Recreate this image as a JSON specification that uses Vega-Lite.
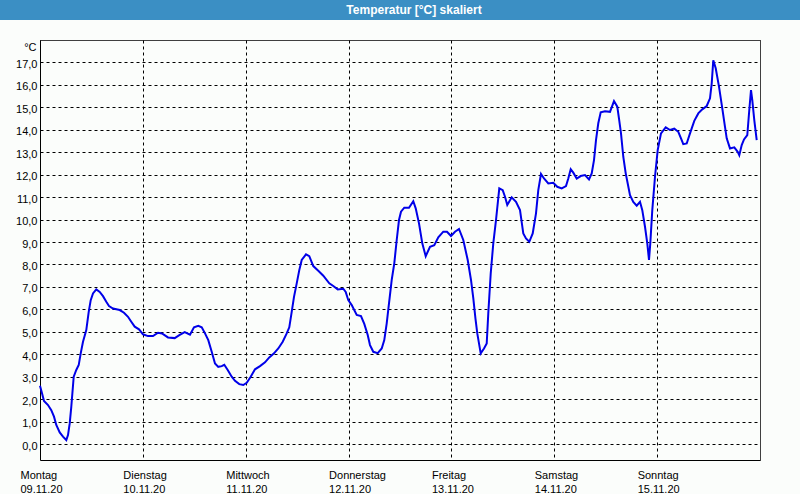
{
  "$schema": "https://vega.github.io/schema/vega-lite/v6.json",
  "background": "#fbfdfb",
  "padding": 0,
  "spacing": 20,
  "config": {
    "font": "Liberation Sans",
    "view": {"stroke": null, "fill": "#fbfdfb"}
  },
  "vconcat": [
    {
      "width": 800,
      "height": 20,
      "view": {"fill": "#3b8fc4", "stroke": null},
      "data": {"values": [{"title": "Temperatur [°C] skaliert"}]},
      "mark": {"type": "text", "color": "white", "fontWeight": "bold", "fontSize": 12, "font": "Liberation Sans", "baseline": "middle", "dx": 14},
      "encoding": {"text": {"field": "title"}}
    },
    {
      "width": 760,
      "height": 420,
      "data": {"values": [
        {"t": "2020-11-09T00:00", "v": 2.6},
        {"t": "2020-11-09T00:28", "v": 2.26},
        {"t": "2020-11-09T00:56", "v": 1.92},
        {"t": "2020-11-09T01:52", "v": 1.74},
        {"t": "2020-11-09T02:38", "v": 1.51},
        {"t": "2020-11-09T03:16", "v": 1.22},
        {"t": "2020-11-09T03:48", "v": 0.85},
        {"t": "2020-11-09T04:36", "v": 0.52},
        {"t": "2020-11-09T05:22", "v": 0.33},
        {"t": "2020-11-09T06:08", "v": 0.18},
        {"t": "2020-11-09T06:32", "v": 0.4},
        {"t": "2020-11-09T06:56", "v": 0.92},
        {"t": "2020-11-09T07:18", "v": 1.66},
        {"t": "2020-11-09T07:52", "v": 3.0},
        {"t": "2020-11-09T08:28", "v": 3.3},
        {"t": "2020-11-09T09:02", "v": 3.52},
        {"t": "2020-11-09T09:30", "v": 4.04},
        {"t": "2020-11-09T10:02", "v": 4.56},
        {"t": "2020-11-09T10:48", "v": 5.08},
        {"t": "2020-11-09T11:22", "v": 5.89},
        {"t": "2020-11-09T11:50", "v": 6.41},
        {"t": "2020-11-09T12:22", "v": 6.71},
        {"t": "2020-11-09T13:08", "v": 6.89},
        {"t": "2020-11-09T13:56", "v": 6.78},
        {"t": "2020-11-09T14:42", "v": 6.59},
        {"t": "2020-11-09T15:28", "v": 6.34},
        {"t": "2020-11-09T16:06", "v": 6.15},
        {"t": "2020-11-09T17:02", "v": 6.04},
        {"t": "2020-11-09T18:36", "v": 5.97},
        {"t": "2020-11-09T19:36", "v": 5.85},
        {"t": "2020-11-09T20:32", "v": 5.67},
        {"t": "2020-11-09T21:18", "v": 5.45},
        {"t": "2020-11-09T22:06", "v": 5.23},
        {"t": "2020-11-09T23:06", "v": 5.11},
        {"t": "2020-11-10T00:02", "v": 4.89},
        {"t": "2020-11-10T01:12", "v": 4.81},
        {"t": "2020-11-10T02:22", "v": 4.81},
        {"t": "2020-11-10T03:32", "v": 4.96},
        {"t": "2020-11-10T04:28", "v": 4.93},
        {"t": "2020-11-10T05:52", "v": 4.75},
        {"t": "2020-11-10T07:26", "v": 4.72},
        {"t": "2020-11-10T08:36", "v": 4.86},
        {"t": "2020-11-10T09:46", "v": 4.99},
        {"t": "2020-11-10T11:00", "v": 4.87},
        {"t": "2020-11-10T11:56", "v": 5.2},
        {"t": "2020-11-10T12:56", "v": 5.27},
        {"t": "2020-11-10T13:44", "v": 5.2},
        {"t": "2020-11-10T14:30", "v": 4.93},
        {"t": "2020-11-10T15:16", "v": 4.63},
        {"t": "2020-11-10T16:04", "v": 4.11},
        {"t": "2020-11-10T16:50", "v": 3.59},
        {"t": "2020-11-10T17:36", "v": 3.44},
        {"t": "2020-11-10T18:24", "v": 3.47},
        {"t": "2020-11-10T19:00", "v": 3.53},
        {"t": "2020-11-10T19:48", "v": 3.3},
        {"t": "2020-11-10T20:44", "v": 3.0},
        {"t": "2020-11-10T21:30", "v": 2.82},
        {"t": "2020-11-10T22:30", "v": 2.67},
        {"t": "2020-11-10T23:26", "v": 2.63},
        {"t": "2020-11-11T00:14", "v": 2.73},
        {"t": "2020-11-11T01:10", "v": 3.0},
        {"t": "2020-11-11T02:10", "v": 3.33},
        {"t": "2020-11-11T03:20", "v": 3.47},
        {"t": "2020-11-11T04:30", "v": 3.64},
        {"t": "2020-11-11T05:30", "v": 3.86},
        {"t": "2020-11-11T06:36", "v": 4.04},
        {"t": "2020-11-11T07:36", "v": 4.26},
        {"t": "2020-11-11T08:38", "v": 4.56},
        {"t": "2020-11-11T09:34", "v": 4.93},
        {"t": "2020-11-11T10:10", "v": 5.2},
        {"t": "2020-11-11T10:44", "v": 5.89},
        {"t": "2020-11-11T11:16", "v": 6.56},
        {"t": "2020-11-11T11:54", "v": 7.16},
        {"t": "2020-11-11T12:30", "v": 7.75},
        {"t": "2020-11-11T13:04", "v": 8.2},
        {"t": "2020-11-11T14:04", "v": 8.45},
        {"t": "2020-11-11T14:50", "v": 8.37},
        {"t": "2020-11-11T15:46", "v": 7.93},
        {"t": "2020-11-11T16:56", "v": 7.72},
        {"t": "2020-11-11T18:06", "v": 7.5},
        {"t": "2020-11-11T19:30", "v": 7.16},
        {"t": "2020-11-11T20:26", "v": 7.04},
        {"t": "2020-11-11T21:28", "v": 6.89},
        {"t": "2020-11-11T22:46", "v": 6.92},
        {"t": "2020-11-11T23:20", "v": 6.78},
        {"t": "2020-11-11T23:56", "v": 6.41},
        {"t": "2020-11-12T00:44", "v": 6.19},
        {"t": "2020-11-12T01:54", "v": 5.75},
        {"t": "2020-11-12T02:54", "v": 5.7},
        {"t": "2020-11-12T03:40", "v": 5.35},
        {"t": "2020-11-12T04:28", "v": 4.86},
        {"t": "2020-11-12T05:00", "v": 4.41},
        {"t": "2020-11-12T05:46", "v": 4.11},
        {"t": "2020-11-12T06:48", "v": 4.05},
        {"t": "2020-11-12T07:44", "v": 4.26},
        {"t": "2020-11-12T08:20", "v": 4.63},
        {"t": "2020-11-12T08:54", "v": 5.38},
        {"t": "2020-11-12T09:26", "v": 6.27},
        {"t": "2020-11-12T10:04", "v": 7.31},
        {"t": "2020-11-12T10:40", "v": 8.05},
        {"t": "2020-11-12T11:14", "v": 9.09},
        {"t": "2020-11-12T11:46", "v": 9.98},
        {"t": "2020-11-12T12:14", "v": 10.35},
        {"t": "2020-11-12T13:00", "v": 10.53},
        {"t": "2020-11-12T14:06", "v": 10.53},
        {"t": "2020-11-12T15:06", "v": 10.82},
        {"t": "2020-11-12T15:40", "v": 10.5},
        {"t": "2020-11-12T16:26", "v": 9.83},
        {"t": "2020-11-12T17:12", "v": 8.94},
        {"t": "2020-11-12T18:00", "v": 8.37},
        {"t": "2020-11-12T19:00", "v": 8.79},
        {"t": "2020-11-12T20:00", "v": 8.86},
        {"t": "2020-11-12T20:56", "v": 9.21},
        {"t": "2020-11-12T22:06", "v": 9.46},
        {"t": "2020-11-12T22:58", "v": 9.46},
        {"t": "2020-11-12T23:54", "v": 9.27},
        {"t": "2020-11-13T00:50", "v": 9.46},
        {"t": "2020-11-13T01:46", "v": 9.58},
        {"t": "2020-11-13T02:46", "v": 9.09},
        {"t": "2020-11-13T03:48", "v": 8.2},
        {"t": "2020-11-13T04:34", "v": 7.31},
        {"t": "2020-11-13T05:06", "v": 6.5},
        {"t": "2020-11-13T05:36", "v": 5.6},
        {"t": "2020-11-13T06:02", "v": 4.93},
        {"t": "2020-11-13T06:50", "v": 4.04},
        {"t": "2020-11-13T07:36", "v": 4.26},
        {"t": "2020-11-13T08:14", "v": 4.48},
        {"t": "2020-11-13T08:36", "v": 5.82},
        {"t": "2020-11-13T09:10", "v": 7.6},
        {"t": "2020-11-13T09:46", "v": 8.94},
        {"t": "2020-11-13T10:24", "v": 9.98},
        {"t": "2020-11-13T11:10", "v": 11.39},
        {"t": "2020-11-13T11:58", "v": 11.31},
        {"t": "2020-11-13T12:30", "v": 11.02},
        {"t": "2020-11-13T13:02", "v": 10.65},
        {"t": "2020-11-13T14:04", "v": 10.99},
        {"t": "2020-11-13T15:04", "v": 10.79},
        {"t": "2020-11-13T16:00", "v": 10.42},
        {"t": "2020-11-13T16:46", "v": 9.38},
        {"t": "2020-11-13T17:24", "v": 9.16},
        {"t": "2020-11-13T18:10", "v": 9.01},
        {"t": "2020-11-13T18:58", "v": 9.38},
        {"t": "2020-11-13T19:44", "v": 10.28},
        {"t": "2020-11-13T20:16", "v": 11.31},
        {"t": "2020-11-13T20:54", "v": 12.03},
        {"t": "2020-11-13T21:36", "v": 11.83},
        {"t": "2020-11-13T22:36", "v": 11.61},
        {"t": "2020-11-13T23:46", "v": 11.64},
        {"t": "2020-11-14T00:42", "v": 11.46},
        {"t": "2020-11-14T01:44", "v": 11.39},
        {"t": "2020-11-14T02:44", "v": 11.49},
        {"t": "2020-11-14T03:16", "v": 11.83},
        {"t": "2020-11-14T03:50", "v": 12.24},
        {"t": "2020-11-14T04:26", "v": 12.09},
        {"t": "2020-11-14T05:14", "v": 11.83},
        {"t": "2020-11-14T06:10", "v": 11.94},
        {"t": "2020-11-14T07:10", "v": 11.98},
        {"t": "2020-11-14T08:06", "v": 11.79},
        {"t": "2020-11-14T08:44", "v": 12.06},
        {"t": "2020-11-14T09:16", "v": 12.65},
        {"t": "2020-11-14T09:44", "v": 13.54},
        {"t": "2020-11-14T10:16", "v": 14.29},
        {"t": "2020-11-14T10:50", "v": 14.78},
        {"t": "2020-11-14T11:50", "v": 14.83},
        {"t": "2020-11-14T13:00", "v": 14.8},
        {"t": "2020-11-14T13:56", "v": 15.28},
        {"t": "2020-11-14T14:42", "v": 15.03},
        {"t": "2020-11-14T15:06", "v": 14.5},
        {"t": "2020-11-14T15:34", "v": 13.84},
        {"t": "2020-11-14T16:06", "v": 12.8},
        {"t": "2020-11-14T16:40", "v": 12.06},
        {"t": "2020-11-14T17:08", "v": 11.61},
        {"t": "2020-11-14T17:40", "v": 11.09},
        {"t": "2020-11-14T18:26", "v": 10.79},
        {"t": "2020-11-14T19:14", "v": 10.62},
        {"t": "2020-11-14T20:00", "v": 10.79},
        {"t": "2020-11-14T20:32", "v": 10.42},
        {"t": "2020-11-14T21:10", "v": 9.68},
        {"t": "2020-11-14T21:42", "v": 8.94},
        {"t": "2020-11-14T22:06", "v": 8.2},
        {"t": "2020-11-14T22:24", "v": 8.94},
        {"t": "2020-11-14T22:52", "v": 10.42},
        {"t": "2020-11-14T23:30", "v": 11.91},
        {"t": "2020-11-15T00:08", "v": 13.1},
        {"t": "2020-11-15T00:54", "v": 13.84},
        {"t": "2020-11-15T02:00", "v": 14.11},
        {"t": "2020-11-15T03:00", "v": 13.99},
        {"t": "2020-11-15T04:00", "v": 14.05},
        {"t": "2020-11-15T04:56", "v": 13.91},
        {"t": "2020-11-15T05:34", "v": 13.62},
        {"t": "2020-11-15T06:06", "v": 13.36},
        {"t": "2020-11-15T06:54", "v": 13.39},
        {"t": "2020-11-15T07:40", "v": 13.84},
        {"t": "2020-11-15T08:40", "v": 14.4},
        {"t": "2020-11-15T09:36", "v": 14.73},
        {"t": "2020-11-15T10:32", "v": 14.91},
        {"t": "2020-11-15T11:34", "v": 15.06},
        {"t": "2020-11-15T12:20", "v": 15.4},
        {"t": "2020-11-15T12:44", "v": 16.07},
        {"t": "2020-11-15T13:06", "v": 17.1},
        {"t": "2020-11-15T13:40", "v": 16.74},
        {"t": "2020-11-15T14:26", "v": 15.92},
        {"t": "2020-11-15T15:12", "v": 14.95},
        {"t": "2020-11-15T15:50", "v": 14.13},
        {"t": "2020-11-15T16:14", "v": 13.62},
        {"t": "2020-11-15T17:00", "v": 13.17},
        {"t": "2020-11-15T18:00", "v": 13.22},
        {"t": "2020-11-15T18:48", "v": 13.02},
        {"t": "2020-11-15T19:10", "v": 12.87},
        {"t": "2020-11-15T19:44", "v": 13.32},
        {"t": "2020-11-15T20:16", "v": 13.57},
        {"t": "2020-11-15T21:02", "v": 13.76},
        {"t": "2020-11-15T21:30", "v": 14.88},
        {"t": "2020-11-15T21:54", "v": 15.77},
        {"t": "2020-11-15T22:12", "v": 15.32},
        {"t": "2020-11-15T22:40", "v": 14.43},
        {"t": "2020-11-15T23:14", "v": 13.54}
      ]},
      "mark": {"type": "line", "color": "#0000e8", "strokeWidth": 2, "clip": false},
      "encoding": {
        "x": {
          "field": "t",
          "type": "temporal",
          "scale": {"domain": [{"year": 2020, "month": 11, "date": 9}, {"year": 2020, "month": 11, "date": 16}], "range": [40, 760], "nice": false},
          "axis": {
            "title": null,
            "values": [
              {"year": 2020, "month": 11, "date": 9},
              {"year": 2020, "month": 11, "date": 10},
              {"year": 2020, "month": 11, "date": 11},
              {"year": 2020, "month": 11, "date": 12},
              {"year": 2020, "month": 11, "date": 13},
              {"year": 2020, "month": 11, "date": 14},
              {"year": 2020, "month": 11, "date": 15},
              {"year": 2020, "month": 11, "date": 16}
            ],
            "labelExpr": "date(datum.value) == 16 ? '' : [['Sonntag','Montag','Dienstag','Mittwoch','Donnerstag','Freitag','Samstag'][day(datum.value)], timeFormat(datum.value, '%d.%m.%y')]",
            "grid": true,
            "gridColor": "black",
            "gridDash": {"condition": {"test": "date(datum.value) == 16", "value": [1, 0]}, "value": [3, 3]},
            "gridWidth": 1,
            "gridOpacity": 1,
            "ticks": false,
            "domain": true,
            "domainColor": "black",
            "domainWidth": 1,
            "labelAlign": "left",
            "labelBaseline": "top",
            "labelOffset": -20,
            "labelPadding": 9,
            "labelLineHeight": 14,
            "labelFlush": false,
            "labelOverlap": false,
            "labelBound": false,
            "labelFont": "Liberation Sans",
            "labelFontSize": 11,
            "labelColor": "black"
          }
        },
        "y": {
          "field": "v",
          "type": "quantitative",
          "scale": {"domain": [-0.71, 18.0], "nice": false, "zero": false},
          "axis": {
            "values": [0, 1, 2, 3, 4, 5, 6, 7, 8, 9, 10, 11, 12, 13, 14, 15, 16, 17, 18],
            "labelExpr": "datum.value > 17.5 ? '' : replace(format(datum.value, '.1f'), '.', ',')",
            "offset": -40,
            "grid": true,
            "gridColor": "black",
            "gridDash": {"condition": {"test": "datum.value > 17.5", "value": [1, 0]}, "value": [3, 3]},
            "gridWidth": 1,
            "gridOpacity": 1,
            "ticks": false,
            "domain": true,
            "domainColor": "black",
            "domainWidth": 1,
            "labelPadding": 3,
            "labelOffset": 2,
            "labelFont": "Liberation Sans",
            "labelFontSize": 11,
            "labelColor": "black",
            "title": "°C",
            "titleAngle": 0,
            "titleAlign": "right",
            "titleBaseline": "middle",
            "titleX": -4,
            "titleY": 7,
            "titleFont": "Liberation Sans",
            "titleFontSize": 11,
            "titleFontWeight": "normal",
            "titleColor": "black"
          }
        }
      }
    }
  ]
}
